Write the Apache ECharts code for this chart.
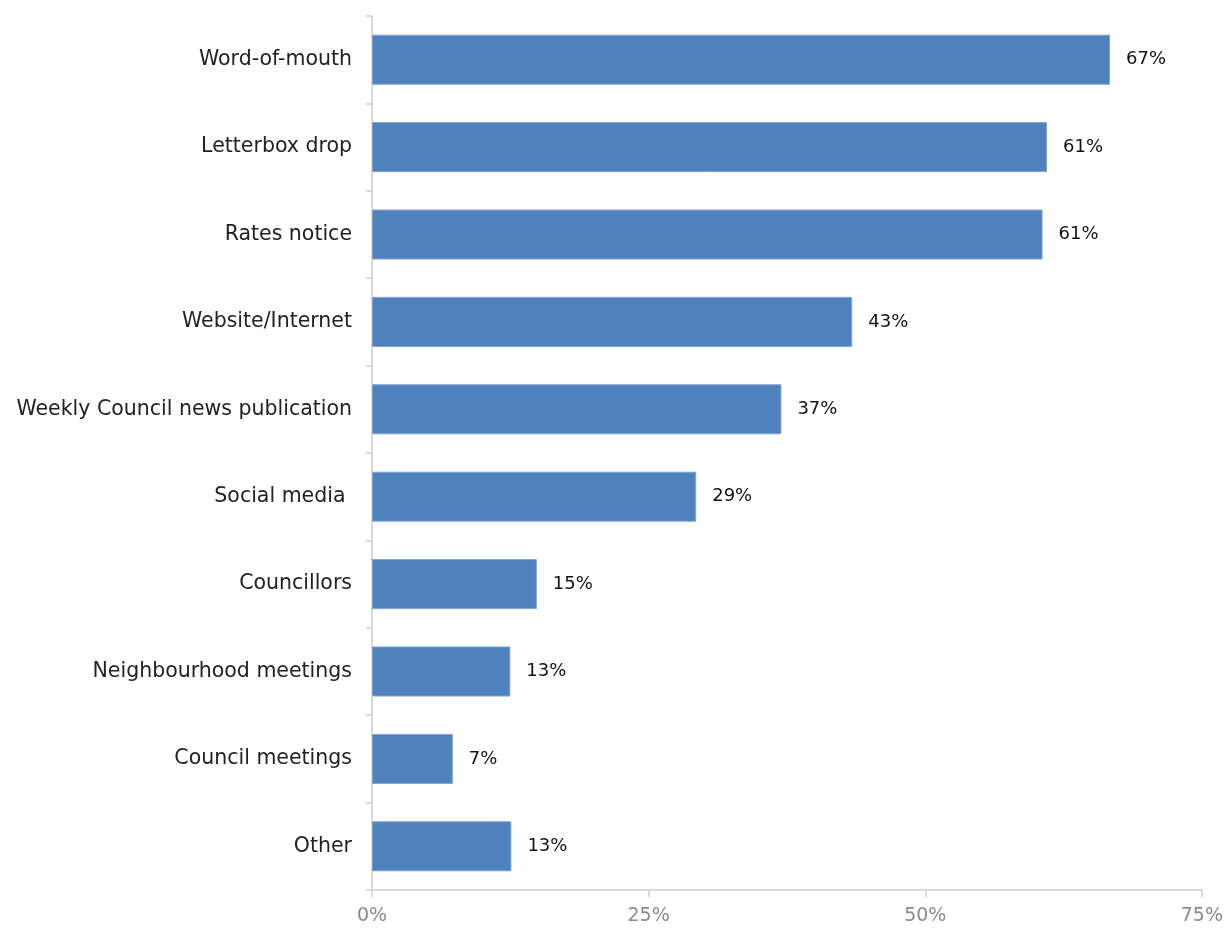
<!DOCTYPE html>
<html>
<head>
<meta charset="utf-8">
<script src="https://cdn.jsdelivr.net/npm/echarts@6/dist/echarts.min.js"></script>
<style>
  html, body { margin: 0; padding: 0; background: #fff; }
  #chart { width: 1226px; height: 929px; }
</style>
</head>
<body>
<div id="chart"></div>
<script>
// categories, top to bottom
var categories = ["Word-of-mouth", "Letterbox drop", "Rates notice", "Website/Internet",
    "Weekly Council news publication", "Social media ", "Councillors",
    "Neighbourhood meetings", "Council meetings", "Other"];
// share of respondents (%)
var values = [66.7, 61.0, 60.6, 43.4, 37.0, 29.3, 14.9, 12.5, 7.3, 12.6];
var xTicks = [0, 25, 50, 75];

var FONT = "'DejaVu Sans', 'Liberation Sans', sans-serif";
var myChart = echarts.init(document.getElementById("chart"));
var option = {
    animation: false,
    grid: { left: 372, right: 23, top: 16, bottom: 39, containLabel: false },
    xAxis: {
        type: "value",
        min: xTicks[0],
        max: xTicks[xTicks.length - 1],
        interval: 25,
        axisLine: { show: true, lineStyle: { color: "#d9d9d9", width: 2 } },
        axisTick: { show: true, length: 7, lineStyle: { color: "#d9d9d9", width: 2 } },
        splitLine: { show: false },
        axisLabel: {
            color: "#8a8a8a", fontSize: 19, fontFamily: FONT, margin: 17,
            formatter: function (v) { return v + "%"; }
        }
    },
    yAxis: {
        type: "category",
        data: categories,
        inverse: true,
        axisLine: { show: true, lineStyle: { color: "#d9d9d9", width: 2 } },
        axisTick: { show: true, length: 6, lineStyle: { color: "#d9d9d9", width: 2 } },
        axisLabel: { color: "#222", fontSize: 20.5, fontFamily: FONT, margin: 20 }
    },
    series: [{
        type: "bar",
        data: values,
        barWidth: 50,
        itemStyle: { color: "#4f81bd", borderColor: "#7fa2d0", borderWidth: 1 },
        label: {
            show: true,
            position: "right",
            distance: 16,
            color: "#111",
            fontSize: 18,
            fontFamily: FONT,
            formatter: function (p) { return Math.round(p.value) + "%"; }
        }
    }]
};
myChart.setOption(option);
</script>
</body>
</html>
